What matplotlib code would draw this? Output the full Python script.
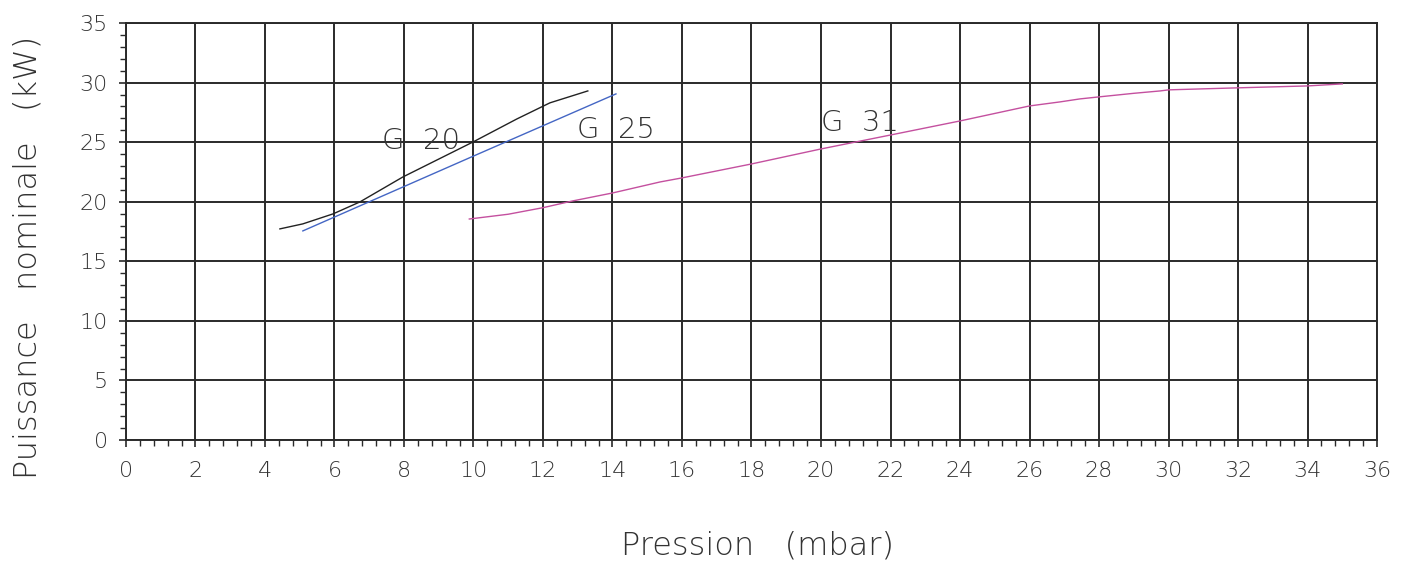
import matplotlib
matplotlib.use("Agg")
import matplotlib.pyplot as plt
from matplotlib.ticker import MultipleLocator

# --- data ---
# G 20 natural gas curve
g20_x = [4.43, 5.09, 5.96, 6.73, 7.97, 9.99, 11.25, 12.2, 13.29]
g20_y = [17.72, 18.14, 18.98, 19.98, 22.08, 25.02, 26.95, 28.3, 29.3]

# G 25 curve (almost straight)
g25_x = [5.09, 9.99, 14.1]
g25_y = [17.55, 23.82, 29.05]

# G 31 propane curve
g31_x = [9.88, 11.0, 12.0, 12.86, 14.01, 15.37, 16.0, 18.0, 20.0, 22.0, 24.0,
         26.0, 26.88, 27.45, 28.0, 29.0, 29.76, 30.0, 32.0, 34.0, 35.0]
g31_y = [18.55, 18.95, 19.5, 20.07, 20.74, 21.66, 22.0, 23.17, 24.43, 25.6,
         26.78, 28.04, 28.38, 28.63, 28.8, 29.1, 29.3, 29.39, 29.56, 29.72,
         29.89]

labels = ["G  20", "G  25", "G  31"]
label_pos = [(7.37, 24.45), (12.98, 25.36), (20.0, 25.94)]

x_ticks = list(range(0, 37, 2))
y_ticks = list(range(0, 36, 5))

# --- figure ---
plt.rcParams['font.family'] = ['DejaVu Sans']
txt_color = "#333333"
grid_color = "#2a2a2a"

fig = plt.figure(figsize=(14.01, 5.63), dpi=100)
ax = fig.add_axes([0.0899, 0.2185, 0.893, 0.7406])

ax.plot(g20_x, g20_y, color="#222222", lw=1.0, zorder=3)
ax.plot(g25_x, g25_y, color="#4466c4", lw=1.0, zorder=3)
ax.plot(g31_x, g31_y, color="#c4509f", lw=1.0, zorder=3)

for lab, (lx, ly) in zip(labels, label_pos):
    ax.text(lx, ly, lab, fontsize=21, color=txt_color, fontweight='light',
            ha='left', va='baseline', zorder=4)

ax.set_xlim(0, 36)
ax.set_ylim(0, 35)
ax.set_xticks(x_ticks)
ax.set_yticks(y_ticks)
ax.xaxis.set_minor_locator(MultipleLocator(0.4))
ax.yaxis.set_minor_locator(MultipleLocator(1))

ax.grid(True, which='major', color=grid_color, lw=1.4)
ax.tick_params(which='major', direction='out', length=5, width=1.2,
               color=grid_color, labelsize=16, labelcolor=txt_color, pad=10)
ax.tick_params(which='minor', direction='out', length=4, width=1.0,
               color=grid_color)
ax.tick_params(axis='y', pad=8)
for lbl in ax.get_xticklabels() + ax.get_yticklabels():
    lbl.set_fontweight('light')

for s in ax.spines.values():
    s.set_color(grid_color)
    s.set_linewidth(1.4)

xl = ax.set_xlabel("Pression   (mbar)", fontsize=23, color=txt_color,
                   fontweight='light')
xl.set_verticalalignment('center')
ax.xaxis.set_label_coords(0.505, -0.254)

yl = ax.set_ylabel("Puissance   nominale   (kW)", fontsize=23, color=txt_color,
                   fontweight='light')
yl.set_verticalalignment('center')
ax.yaxis.set_label_coords(-0.079, 0.438)

fig.savefig("out.png", dpi=100)
